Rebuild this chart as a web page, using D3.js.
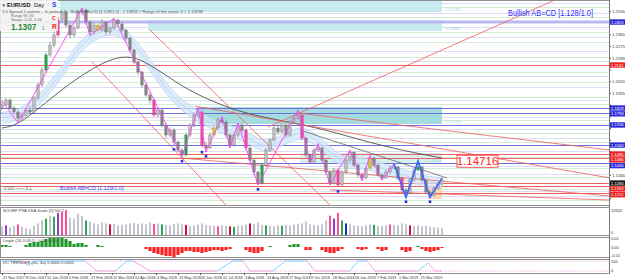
<!DOCTYPE html>
<html>
<head>
<meta charset="utf-8">
<script src="https://cdn.jsdelivr.net/npm/d3@7"></script>
<style>
    html, body { margin: 0; padding: 0; background: #fff; }
    svg { display: block; font-family: "Liberation Sans", Arial, sans-serif; }
</style>
</head>
<body>
<svg id="chart" width="625" height="280"></svg>
<script>

// EURUSD daily, one candle every few sessions
const opens = [1.1830,1.1851,1.1887,1.1829,1.1800,1.1756,1.1778,1.1814,1.1800,1.1902,
    1.1996,1.2105,1.2214,1.2286,1.2359,1.2468,1.2526,1.2431,1.2359,1.2410,
    1.2526,1.2540,1.2453,1.2381,1.2431,1.2395,1.2453,1.2381,1.2410,1.2468,
    1.2439,1.2395,1.2337,1.2250,1.2163,1.2090,1.1996,1.1923,1.1887,1.1778,
    1.1814,1.1706,1.1633,1.1669,1.1582,1.1524,1.1488,1.1633,1.1706,1.1778,
    1.1800,1.1560,1.1539,1.1633,1.1684,1.1742,1.1727,1.1633,1.1560,1.1633,
    1.1706,1.1669,1.1539,1.1451,1.1364,1.1284,1.1415,1.1524,1.1597,1.1684,
    1.1655,1.1706,1.1633,1.1727,1.1756,1.1778,1.1611,1.1488,1.1437,1.1524,
    1.1539,1.1451,1.1364,1.1284,1.1379,1.1270,1.1364,1.1451,1.1509,1.1415,
    1.1343,1.1321,1.1393,1.1466,1.1415,1.1343,1.1321,1.1364,1.1393,1.1401,
    1.1321,1.1234,1.1212,1.1306,1.1379,1.1401,1.1306,1.1219,1.1197,1.1248,
    1.1277]
const closes = [1.1851,1.1887,1.1829,1.1800,1.1756,1.1778,1.1814,1.1800,1.1902,1.1996,
    1.2105,1.2214,1.2286,1.2359,1.2468,1.2526,1.2431,1.2359,1.2410,1.2526,
    1.2540,1.2453,1.2381,1.2431,1.2395,1.2453,1.2381,1.2410,1.2468,1.2439,
    1.2395,1.2337,1.2250,1.2163,1.2090,1.1996,1.1923,1.1887,1.1778,1.1814,
    1.1706,1.1633,1.1669,1.1582,1.1524,1.1488,1.1633,1.1706,1.1778,1.1800,
    1.1560,1.1539,1.1633,1.1684,1.1742,1.1727,1.1633,1.1560,1.1633,1.1706,
    1.1669,1.1539,1.1451,1.1364,1.1284,1.1415,1.1524,1.1597,1.1684,1.1655,
    1.1706,1.1633,1.1727,1.1756,1.1778,1.1611,1.1488,1.1437,1.1524,1.1539,
    1.1451,1.1364,1.1284,1.1379,1.1270,1.1364,1.1451,1.1509,1.1415,1.1343,
    1.1321,1.1393,1.1466,1.1415,1.1343,1.1321,1.1364,1.1393,1.1401,1.1321,
    1.1234,1.1212,1.1306,1.1379,1.1401,1.1306,1.1219,1.1197,1.1248,1.1277,
    1.1307]
const highs = [1.1880,1.1905,1.1900,1.1845,1.1815,1.1795,1.1830,1.1840,1.1915,1.2010,
    1.2125,1.2230,1.2310,1.2385,1.2490,1.2537,1.2535,1.2445,1.2430,1.2540,
    1.2555,1.2550,1.2465,1.2450,1.2445,1.2475,1.2460,1.2425,1.2480,1.2475,
    1.2450,1.2405,1.2345,1.2260,1.2175,1.2100,1.2010,1.1940,1.1900,1.1830,
    1.1825,1.1720,1.1690,1.1680,1.1595,1.1540,1.1650,1.1720,1.1795,1.1830,
    1.1810,1.1580,1.1650,1.1700,1.1760,1.1765,1.1740,1.1645,1.1650,1.1720,
    1.1720,1.1680,1.1550,1.1465,1.1375,1.1430,1.1540,1.1610,1.1700,1.1710,
    1.1720,1.1715,1.1745,1.1775,1.1815,1.1790,1.1620,1.1500,1.1540,1.1570,
    1.1550,1.1465,1.1375,1.1395,1.1390,1.1380,1.1465,1.1525,1.1515,1.1425,
    1.1360,1.1405,1.1485,1.1475,1.1425,1.1355,1.1380,1.1410,1.1425,1.1410,
    1.1330,1.1250,1.1320,1.1395,1.1445,1.1410,1.1315,1.1235,1.1260,1.1290,
    1.1320]
const lows = [1.1815,1.1840,1.1815,1.1785,1.1720,1.1735,1.1765,1.1780,1.1790,1.1890,
    1.1980,1.2090,1.2200,1.2270,1.2340,1.2450,1.2410,1.2335,1.2340,1.2400,
    1.2500,1.2430,1.2355,1.2365,1.2375,1.2385,1.2360,1.2365,1.2400,1.2420,
    1.2380,1.2320,1.2230,1.2145,1.2070,1.1975,1.1910,1.1860,1.1760,1.1760,
    1.1690,1.1610,1.1615,1.1560,1.1510,1.1475,1.1480,1.1620,1.1690,1.1760,
    1.1540,1.1510,1.1530,1.1620,1.1670,1.1710,1.1615,1.1540,1.1550,1.1620,
    1.1650,1.1520,1.1430,1.1340,1.1270,1.1275,1.1400,1.1510,1.1585,1.1635,
    1.1640,1.1615,1.1620,1.1710,1.1740,1.1595,1.1470,1.1430,1.1425,1.1510,
    1.1435,1.1345,1.1270,1.1275,1.1255,1.1260,1.1350,1.1440,1.1400,1.1325,
    1.1300,1.1310,1.1380,1.1400,1.1330,1.1305,1.1315,1.1350,1.1380,1.1305,
    1.1220,1.1180,1.1200,1.1295,1.1370,1.1290,1.1200,1.1180,1.1185,1.1235,
    1.1265]

// candles painted by the pattern tool
const pinkCandles = [14, 38, 50, 61, 75, 84, 100]
const greenCandles = [11, 46, 65, 104]
const yellowCandles = [24, 53, 92]

const volumes = [90,100,80,95,110,85,70,60,95,120,
    150,170,200,190,230,240,260,180,170,220,
    200,150,140,120,110,130,120,110,115,100,
    105,110,120,125,115,120,110,130,115,120,
    110,105,100,115,120,110,105,95,100,110,
    120,105,100,95,90,100,95,90,85,95,
    100,110,120,115,130,105,100,95,90,100,
    95,105,100,110,115,120,140,110,105,100,
    110,150,200,170,230,150,120,110,100,95,
    90,100,110,105,95,90,100,110,105,100,
    120,110,100,95,100,90,95,85,80,75,
    70]
const volPink = [4, 15, 16, 38, 54, 82, 84, 97]
const volGreen = [11, 13, 40, 58, 66, 85, 93, 21, 70]
const volViolet = [1, 14, 83]
const volRed = [27, 46, 57, 62, 102]
const volBlue = [86]

const oscValues = [0.002,0.002,0.001,0,0,0,0.002,0.004,0.005,0.005,
    0.006,0.008,0.009,0.010,0.010,0.009,0.008,0.006,0.003,0.004,
    0.004,0.002,0,0,0.002,0.001,0,0,0,0,
    0,0,0,0,0,0,-0.002,-0.004,-0.006,-0.007,
    -0.008,-0.009,-0.009,-0.010,-0.008,-0.006,-0.004,-0.004,-0.005,-0.005,
    -0.006,-0.005,-0.004,-0.003,-0.003,-0.004,-0.003,-0.002,0,0,
    0,-0.003,-0.005,-0.006,-0.006,-0.004,0,0.001,0,0,
    0,0,0.002,0.003,0.003,0,-0.003,-0.003,0,0,
    -0.003,-0.005,-0.006,-0.006,-0.004,-0.002,0,0,0,-0.002,
    -0.003,-0.002,0,0,-0.002,-0.004,-0.003,0,0,0,
    -0.003,-0.005,-0.004,0,0.001,-0.002,-0.004,-0.005,-0.004,-0.003,
    -0.001]

// trender oscillator turning points
const trendIdx = [0,5,6.5,8.5,20.75,23.75,28.25,31.25,32.75,37,53.75,57.75,60.25,62,67.75,70.75,76.25,78.25,87,89,91.25,93.25,104,106.5,108.25,110]
const trendVal = [100,100,55,100,100,0,0,100,100,0,0,100,100,0,0,100,100,0,0,100,100,0,0,80,0,0]

// slow moving average (black) and the blue ribbon
const maIdx = [0,4.5,14.5,24.5,30.75,35.25,42,47.75,57.75,66.25,79.5,89.5,99.5,110]
const maVal = [1.1684,1.1706,1.1960,1.2156,1.2214,1.2177,1.2047,1.1938,1.1814,1.1756,1.1684,1.1597,1.1524,1.1466]
const ribbonIdx = [0,4.5,9.5,14.5,19.5,24.5,29.5,34.5,39.5,43.25,48.25,54.5,60.75,65.75,70.75,75.75,80.75,85.75,90.75,95.75,100.75,105.75,110]
const ribbonVal = [1.1756,1.1778,1.1887,1.2068,1.2286,1.2395,1.2410,1.2250,1.2032,1.1887,1.1778,1.1684,1.1633,1.1524,1.1611,1.1669,1.1539,1.1415,1.1437,1.1379,1.1343,1.1292,1.1284]

// swing zigzag and the AB=CD legs
const zigIdx = [0,4,20,22,28,45,49,51,55,57,59,64,74,77,79,82,87,90,92,95,98]
const zigVal = [1.1880,1.1720,1.2555,1.2355,1.2480,1.1475,1.1830,1.1510,1.1765,1.1540,1.1720,1.1270,1.1815,1.1430,1.1570,1.1270,1.1525,1.1300,1.1485,1.1305,1.1425]
const abcdIdx = [98,101,104,107,110]
const abcdVal = [1.1425,1.1180,1.1445,1.1180,1.1320]
const swingDots = [43, 45, 50, 51, 64, 84, 101, 107]

// trend lines: start index, start price, end index, end price
const redLines = [[22.5,1.2163,56,1.1125],[37,1.2395,82,1.1125],[48.25,1.1843,152,1.1321],
    [66.5,1.1691,138.25,1.2613],[74,1.1793,152,1.1524],[82,1.1234,152,1.1161],[44.75,1.1466,152,1.1190]]
const grayLines = [[74.5,1.1669,111.25,1.1321]]

// supply / demand zones: from index, to index, top, bottom
const zoneFrom = [14.5, 36.5, 49, 74.5, 106.5]
const zoneTo = [110, 110, 110, 110, 110]
const zoneTop = [1.2613, 1.2468, 1.1836, 1.1502, 1.1255]
const zoneBottom = [1.2526, 1.2388, 1.1713, 1.1430, 1.1168]

const blueLevels = [1.1829, 1.1793, 1.1706, 1.1560, 1.1430]
const redLevels = [1.2141, 1.1495, 1.1466, 1.1284, 1.1263, 1.1212]
const lavenderLevel = 1.2453
const gridGreen = [1.2560,1.2490,1.2380,1.2310,1.2200,1.2090,1.2020,1.1910,1.1860,1.1740,1.1650,1.1580,1.1470,1.1390,1.1330,1.1240,1.1160]
const gridLav = [1.2590,1.2520,1.2420,1.2345,1.2240,1.2170,1.2060,1.1980,1.1885,1.1765,1.1680,1.1610,1.1520,1.1410,1.1350,1.1230,1.1190]

const priceTicks = [1.2530,1.2445,1.2360,1.2275,1.2190,1.2105,1.2020,1.1935,1.1850,1.1765,1.1680,1.1595,1.1510,1.1425,1.1340,1.1255,1.1170]
const dateLabels = ['21 Nov 2017','19 Dec 2017','12 Jan 2018','5 Feb 2018','27 Feb 2018','21 Mar 2018','12 Apr 2018',
    '4 May 2018','29 May 2018','20 Jun 2018','12 Jul 2018','3 Aug 2018','24 Aug 2018','17 Sep 2018',
    '9 Oct 2018','28 Nov 2018','16 Jan 2019','7 Feb 2019','1 Mar 2019','25 Mar 2019']
const dateIdx = [0,5.5,11,16.5,22,27.5,33,38.5,44,49.5,55,60.5,66,71.5,77,82.5,88,93.5,99,104.5]


const svg = d3.select('#chart')
const right = 609
const mainTop = 0, mainBottom = 205
const volTop = 207, volBottom = 235
const oscTop = 237, oscBottom = 257, oscZero = 247
const trdTop = 259, trdBottom = 273

const x = d3.scaleLinear().domain([0, 152]).range([2, 610])
const y = d3.scaleLinear().domain([1.1125, 1.2613]).range([mainBottom, mainTop])
const yVol = d3.scaleLinear().domain([0, 280]).range([volBottom, volTop + 1])
const yOsc = d3.scaleLinear().domain([-0.011, 0.011]).range([oscZero + 11, oscZero - 11])
const yTrd = d3.scaleLinear().domain([0, 100]).range([trdBottom - 2, trdTop + 2])

svg.append('rect').attr('width', 625).attr('height', 280).attr('fill', '#fff')

let defs = svg.append('defs')
defs.append('clipPath').attr('id', 'mainClip')
    .append('rect').attr('x', 0).attr('y', mainTop).attr('width', right).attr('height', mainBottom - mainTop)
const main = svg.append('g').attr('clip-path', 'url(#mainClip)')

// faint grid
main.selectAll('line.gg').data(gridGreen).join('line').attr('class', 'gg')
    .attr('x1', 0).attr('x2', right)
    .attr('y1', d => Math.round(y(d)) + 0.5).attr('y2', d => Math.round(y(d)) + 0.5)
    .attr('stroke', '#d4eed4').attr('stroke-width', 1)
main.selectAll('line.gl').data(gridLav).join('line').attr('class', 'gl')
    .attr('x1', 0).attr('x2', right)
    .attr('y1', d => Math.round(y(d)) + 0.5).attr('y2', d => Math.round(y(d)) + 0.5)
    .attr('stroke', '#dcdcf5').attr('stroke-width', 1)

// zones
let zoneFill = ['#c6ecef', '#c6ecef', '#a3dcdf', '#d6f0f1', '#fcd8b2']
main.selectAll('rect.zone').data(zoneFrom).join('rect').attr('class', 'zone')
    .attr('x', d => x(d))
    .attr('width', (d, i) => x(zoneTo[i]) - x(d))
    .attr('y', (d, i) => y(zoneTop[i]))
    .attr('height', (d, i) => y(zoneBottom[i]) - y(zoneTop[i]))
    .attr('fill', (d, i) => zoneFill[i])
// zone price tags; the lowest one goes inside its box, clear of the big 1.14716 label
main.selectAll('text.zlab').data(zoneFrom.slice(0, 4)).join('text').attr('class', 'zlab')
    .attr('x', (d, i) => i === 3 ? x(zoneTo[i]) - 1 : x(zoneTo[i]) + 3)
    .attr('text-anchor', (d, i) => i === 3 ? 'end' : 'start')
    .attr('y', (d, i) => y(zoneBottom[i]) - 1)
    .attr('font-size', 4.3).attr('fill', '#9fd3d8')
    .text((d, i) => zoneBottom[i].toFixed(5))

// horizontal levels
main.append('line')
    .attr('x1', 0).attr('x2', right)
    .attr('y1', y(lavenderLevel)).attr('y2', y(lavenderLevel))
    .attr('stroke', '#b9b9f0').attr('stroke-width', 3)
main.selectAll('line.bl').data(blueLevels).join('line').attr('class', 'bl')
    .attr('x1', 0).attr('x2', right)
    .attr('y1', d => Math.round(y(d)) + 0.5).attr('y2', d => Math.round(y(d)) + 0.5)
    .attr('stroke', '#6f6fe0').attr('stroke-width', 1)
main.selectAll('line.rl').data(redLevels).join('line').attr('class', 'rl')
    .attr('x1', 0).attr('x2', right)
    .attr('y1', d => Math.round(y(d)) + 0.5).attr('y2', d => Math.round(y(d)) + 0.5)
    .attr('stroke', '#f06060').attr('stroke-width', 1)

// blue ribbon
let ribbon = ribbonIdx.map((d, i) => [d, ribbonVal[i]])
main.append('path').datum(ribbon)
    .attr('d', d3.area().curve(d3.curveBasis)
        .x(d => x(d[0])).y0(d => y(d[1] - 0.004)).y1(d => y(d[1] + 0.004)))
    .attr('fill', '#d3e7fa').attr('opacity', 0.75)
main.selectAll('path.rb').data([0.004, -0.004, 0]).join('path').attr('class', 'rb')
    .attr('d', off => d3.line().curve(d3.curveBasis)
        .x(d => x(d[0])).y(d => y(d[1] + off))(ribbon))
    .attr('fill', 'none').attr('stroke', '#aacbef').attr('stroke-width', 0.6)

// slow MA
main.append('path').datum(maIdx.map((d, i) => [d, maVal[i]]))
    .attr('d', d3.line().curve(d3.curveBasis).x(d => x(d[0])).y(d => y(d[1])))
    .attr('fill', 'none').attr('stroke', '#3a3a3a').attr('stroke-width', 0.8)

// trend lines
main.selectAll('line.tl').data(redLines).join('line').attr('class', 'tl')
    .attr('x1', d => x(d[0])).attr('y1', d => y(d[1]))
    .attr('x2', d => x(d[2])).attr('y2', d => y(d[3]))
    .attr('stroke', '#f05a5a').attr('stroke-width', 0.8)
main.selectAll('line.gtl').data(grayLines).join('line').attr('class', 'gtl')
    .attr('x1', d => x(d[0])).attr('y1', d => y(d[1]))
    .attr('x2', d => x(d[2])).attr('y2', d => y(d[3]))
    .attr('stroke', '#555').attr('stroke-width', 0.7)

// candles
function candleColor(i) {
    if (pinkCandles.includes(i)) return '#ff3ea0'
    if (greenCandles.includes(i)) return '#1fa84a'
    if (yellowCandles.includes(i)) return '#e3c21a'
    return closes[i] >= opens[i] ? '#bdbdbd' : '#858585'
}
let candles = main.append('g')
candles.selectAll('line.wick').data(closes).join('line').attr('class', 'wick')
    .attr('x1', (d, i) => x(i)).attr('x2', (d, i) => x(i))
    .attr('y1', (d, i) => y(highs[i])).attr('y2', (d, i) => y(lows[i]))
    .attr('stroke', (d, i) => candleColor(i) === '#bdbdbd' ? '#8a8a8a' : candleColor(i))
    .attr('stroke-width', 0.8)
candles.selectAll('rect.body').data(closes).join('rect').attr('class', 'body')
    .attr('x', (d, i) => x(i) - 1.3).attr('width', 2.6)
    .attr('y', (d, i) => y(Math.max(opens[i], d)))
    .attr('height', (d, i) => Math.max(1, Math.abs(y(opens[i]) - y(d))))
    .attr('fill', (d, i) => candleColor(i))
    .attr('stroke', '#6a6a6a').attr('stroke-width', 0.3)

// zigzag + pattern legs
main.append('path').datum(zigIdx.map((d, i) => [d, zigVal[i]]))
    .attr('d', d3.line().x(d => x(d[0])).y(d => y(d[1])))
    .attr('fill', 'none').attr('stroke', '#ff40ff').attr('stroke-width', 0.9)
main.append('path').datum(abcdIdx.map((d, i) => [d, abcdVal[i]]))
    .attr('d', d3.line().x(d => x(d[0])).y(d => y(d[1])))
    .attr('fill', 'none').attr('stroke', '#3a62ff').attr('stroke-width', 1.6)
main.selectAll('rect.dot').data(swingDots).join('rect').attr('class', 'dot')
    .attr('x', d => x(d) - 1.3).attr('y', d => y(lows[d]) + 3)
    .attr('width', 2.6).attr('height', 2.6)
    .attr('fill', '#2233dd')

// in-chart texts
main.append('text').attr('x', 4).attr('y', 190)
    .attr('font-size', 4.5).attr('fill', '#666').text('0      0/0      \u2014\u2014 0.1')
main.append('text').attr('x', 60).attr('y', 190)
    .attr('font-size', 5.5).attr('fill', '#3a3aff').text('Bullish AB=CD [1.129/1.0]')
main.append('text').attr('x', 508).attr('y', 16)
    .attr('font-size', 9).attr('textLength', 85).attr('lengthAdjust', 'spacingAndGlyphs')
    .attr('fill', '#2b2bff').text('Bullish AB=CD [1.128/1.0]')

let boxX = x(113.75), boxY = y(1.14716) - 2
main.append('rect').attr('x', boxX).attr('y', boxY).attr('width', 41).attr('height', 12)
    .attr('fill', '#fff').attr('stroke', '#ff3030').attr('stroke-width', 0.8)
main.append('text').attr('x', boxX + 20.5).attr('y', boxY + 10.2).attr('text-anchor', 'middle')
    .attr('font-size', 11.5).attr('fill', '#ff2020').text('1.14716')

// volume pane
function volColor(i) {
    if (volPink.includes(i)) return '#ff4f98'
    if (volGreen.includes(i)) return '#2aa852'
    if (volViolet.includes(i)) return '#9a3ad0'
    if (volRed.includes(i)) return '#d0103a'
    if (volBlue.includes(i)) return '#1c2fa8'
    return '#c3c6cc'
}
svg.append('g').selectAll('rect').data(volumes).join('rect')
    .attr('x', (d, i) => x(i) - 1).attr('width', 2)
    .attr('y', d => yVol(d)).attr('height', d => volBottom - yVol(d))
    .attr('fill', (d, i) => volColor(i))
svg.append('text').attr('x', 3).attr('y', 212).attr('font-size', 4.2).attr('fill', '#444')
    .text('SOOEF PVA  VSA Scale [1]  Vol 2')

// oscillator pane
svg.append('g').selectAll('rect').data(oscValues).join('rect')
    .attr('x', (d, i) => x(i) - 1.6).attr('width', 3.2)
    .attr('y', d => Math.min(yOsc(d), yOsc(0)))
    .attr('height', d => Math.abs(yOsc(d) - yOsc(0)))
    .attr('fill', d => d >= 0 ? '#1f9a2a' : '#ff2020')
svg.append('text').attr('x', 3).attr('y', 241.5).attr('font-size', 4.2).attr('fill', '#444')
    .text('Lingle (24,3,05,1)  -0.00  -0.00')

// trender pane
svg.append('g').selectAll('line').data([100, 0]).join('line')
    .attr('x1', 0).attr('x2', right)
    .attr('y1', d => yTrd(d)).attr('y2', d => yTrd(d))
    .attr('stroke', '#d98ad9').attr('stroke-width', 0.8).attr('stroke-dasharray', '1,1.5')
let segs = trendIdx.slice(1).map((d, i) => [trendIdx[i], trendVal[i], d, trendVal[i + 1]])
svg.append('g').selectAll('line').data(segs).join('line')
    .attr('x1', d => x(d[0])).attr('y1', d => yTrd(d[1]))
    .attr('x2', d => x(d[2])).attr('y2', d => yTrd(d[3]))
    .attr('stroke', d => (d[3] > d[1] || (d[1] === 100 && d[3] === 100)) ? '#6fd0ff' : '#f59ac8')
    .attr('stroke-width', 0.9)
svg.append('text').attr('x', 3).attr('y', 263.5).attr('font-size', 4.2).attr('fill', '#444')
    .text('DC TRENDER (2a, 4a)  0.0000  0.0000')

// pane frames
let frames = [[mainTop, mainBottom], [volTop, volBottom], [oscTop, oscBottom], [trdTop, trdBottom]]
svg.append('g').selectAll('rect').data(frames).join('rect')
    .attr('x', 0.5).attr('y', d => d[0] + 0.5)
    .attr('width', right).attr('height', d => d[1] - d[0])
    .attr('fill', 'none').attr('stroke', '#8f8f8f').attr('stroke-width', 1)

// price axis; tags for the drawn levels sit on top of the scale
let tags = [lavenderLevel, ...blueLevels].map(d => ({p: d, c: '#2b2bdc'}))
    .concat(redLevels.map((d, i) => ({p: d, c: i === 3 ? '#1a1a1a' : '#f02020'})))
tags.sort((a, b) => y(a.p) - y(b.p))
let lastY = -10
for (let t of tags) {
    t.ty = Math.max(y(t.p), lastY + 5.8)
    lastY = t.ty
}
let freeTicks = priceTicks.filter(t => tags.every(g => Math.abs(y(t) - g.ty) > 5.5))

let axis = svg.append('g').attr('font-size', 4.3).attr('fill', '#333')
axis.selectAll('text').data(freeTicks).join('text')
    .attr('x', 612).attr('y', d => y(d) + 1.5).text(d => d.toFixed(4))
axis.selectAll('line').data(priceTicks).join('line')
    .attr('x1', right).attr('x2', right + 2)
    .attr('y1', d => y(d)).attr('y2', d => y(d)).attr('stroke', '#555')

let tagG = svg.append('g')
tagG.selectAll('rect').data(tags).join('rect')
    .attr('x', right + 1).attr('y', d => d.ty - 2.7).attr('width', 15).attr('height', 5.4)
    .attr('fill', d => d.c)
tagG.selectAll('text').data(tags).join('text')
    .attr('x', right + 2).attr('y', d => d.ty + 1.5)
    .attr('font-size', 4.1).attr('fill', '#fff').text(d => d.p.toFixed(4))

let sub = svg.append('g').attr('font-size', 4).attr('fill', '#333')
sub.append('text').attr('x', 611).attr('y', 211.5).text('12632')
sub.append('text').attr('x', 611).attr('y', 234).text('0')
sub.append('text').attr('x', 611).attr('y', 240).text('0.01')
sub.append('text').attr('x', 611).attr('y', 248.5).text('0.00')
sub.append('text').attr('x', 611).attr('y', 256.5).text('-0.01')
sub.append('text').attr('x', 611).attr('y', 263).text('100')
sub.append('text').attr('x', 611).attr('y', 272).text('0')

svg.append('line').attr('x1', right + 0.5).attr('x2', right + 0.5).attr('y1', 0).attr('y2', trdBottom)
    .attr('stroke', '#777')

// time axis
let timeAxis = svg.append('g')
timeAxis.selectAll('text').data(dateLabels).join('text')
    .attr('x', (d, i) => x(dateIdx[i]) + 1).attr('y', 279)
    .attr('font-size', 3.8).attr('fill', '#333').text(d => d)
timeAxis.selectAll('line').data(dateIdx).join('line')
    .attr('x1', d => x(d) + 0.5).attr('x2', d => x(d) + 0.5)
    .attr('y1', trdBottom).attr('y2', trdBottom + 2).attr('stroke', '#555')

// info panel (top-left), drawn last so nothing covers it
let info = svg.append('g').attr('id', 'info')
info.append('rect').attr('x', 0).attr('y', 0).attr('width', 58).attr('height', 31)
    .attr('fill', '#f3f3f3').attr('opacity', 0.9)
let infoText = [
    {t: '\u25bc', x: 1.5, y: 7, s: 4.5, c: '#333', w: 'normal'},
    {t: 'EURUSD', x: 7, y: 7, s: 5.6, c: '#111', w: 'bold'},
    {t: 'Day', x: 34, y: 7, s: 5.6, c: '#111', w: 'normal'},
    {t: 'S', x: 52, y: 7, s: 6.5, c: '#2a3cff', w: 'bold'},
    {t: 'Range     90, 85', x: 11, y: 16.8, s: 3.8, c: '#666', w: 'normal'},
    {t: 'Swaps   -5.51, 0.16', x: 11, y: 20.6, s: 3.8, c: '#666', w: 'normal'},
    {t: '1.1307', x: 11, y: 29.5, s: 8.3, c: '#1e8c3a', w: 'bold'},
    {t: '1', x: 42, y: 29.5, s: 4.5, c: '#1e8c3a', w: 'normal'},
    {t: 'C', x: 52, y: 20, s: 5, c: '#e22', w: 'bold'},
    {t: 'R', x: 52, y: 28.5, s: 6.5, c: '#e22', w: 'bold'}
]
info.selectAll('text.info').data(infoText).join('text').attr('class', 'info')
    .attr('x', d => d.x).attr('y', d => d.y)
    .attr('font-size', d => d.s).attr('font-weight', d => d.w)
    .attr('fill', d => d.c).text(d => d.t)
info.append('text').attr('x', 2).attr('y', 13).attr('font-size', 4.2).attr('fill', '#555')
    .text('3   0   Spread 1.pattern  \u2013  In pattern 1 :: Bullish AB=CD [1.128/1.0] - 1.13832 > Range of the arrow: 0 > 1.13298')

</script>
</body>
</html>
